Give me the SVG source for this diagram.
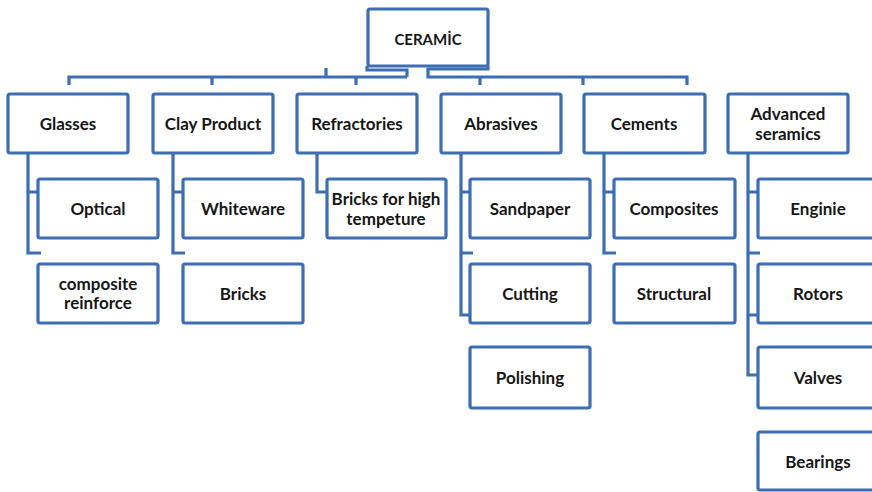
<svg xmlns="http://www.w3.org/2000/svg" width="872" height="492" viewBox="0 0 872 492">
<style>
.box{fill:#ffffff;stroke:#3d6db3;stroke-width:3.2;}
.t{font-family:Lato,"Open Sans","Liberation Sans",sans-serif;font-weight:bold;font-size:17px;fill:#161616;text-anchor:middle;dominant-baseline:central;}
.c{fill:none;stroke:#3d6db3;stroke-width:3.2;stroke-linejoin:miter;}
</style>
<rect width="872" height="492" fill="#ffffff"/>
<g id="connectors" class="c">
<path d="M367,66 V70 H407 V77 M69,85 V77 H407 M212,77 V85 M356,77 V85 M326,77 V68"/>
<path d="M488,66 V69 H428 V77 H687 V85 M480,77 V85 M583,77 V85"/>
<path d="M28,153 V253 H41 M28,192 H38"/>
<path d="M173,153 V253 H185 M173,192 H183"/>
<path d="M317,153 V192 H327"/>
<path d="M461,153 V315 H470 M461,192 H470 M461,253 H473"/>
<path d="M604,153 V253 H616 M604,192 H613"/>
<path d="M748,153 V375 H758 M748,192 H758 M748,253 H760 M748,315 H758"/>
</g>
<g id="ceramic"><rect class="box" x="368" y="9" width="120" height="57" rx="2"/><text class="t" x="428" y="39" style="font-size:15px">CERAMİC</text></g>
<g id="glasses"><rect class="box" x="8" y="94" width="120" height="59" rx="2"/><text class="t" x="68" y="123">Glasses</text></g>
<g id="clay"><rect class="box" x="153" y="94" width="120" height="59" rx="2"/><text class="t" x="213" y="123">Clay Product</text></g>
<g id="refractories"><rect class="box" x="297" y="94" width="120" height="59" rx="2"/><text class="t" x="357" y="123">Refractories</text></g>
<g id="abrasives"><rect class="box" x="441" y="94" width="120" height="59" rx="2"/><text class="t" x="501" y="123">Abrasives</text></g>
<g id="cements"><rect class="box" x="584" y="94" width="121" height="59" rx="2"/><text class="t" x="644" y="123">Cements</text></g>
<g id="advanced"><rect class="box" x="728" y="94" width="120" height="59" rx="2"/><text class="t" x="788" y="113">Advanced</text><text class="t" x="788" y="133">seramics</text></g>
<g id="optical"><rect class="box" x="38" y="179" width="120" height="59" rx="2"/><text class="t" x="98" y="208">Optical</text></g>
<g id="composite"><rect class="box" x="38" y="264" width="120" height="59" rx="2"/><text class="t" x="98" y="283">composite</text><text class="t" x="98" y="302">reinforce</text></g>
<g id="whiteware"><rect class="box" x="183" y="179" width="120" height="59" rx="2"/><text class="t" x="243" y="208">Whiteware</text></g>
<g id="bricks"><rect class="box" x="183" y="264" width="120" height="59" rx="2"/><text class="t" x="243" y="293">Bricks</text></g>
<g id="bricks-high"><rect class="box" x="327" y="179" width="119" height="59" rx="2"/><text class="t" x="386" y="198">Bricks for high</text><text class="t" x="386" y="218">tempeture</text></g>
<g id="sandpaper"><rect class="box" x="470" y="179" width="120" height="59" rx="2"/><text class="t" x="530" y="208">Sandpaper</text></g>
<g id="cutting"><rect class="box" x="470" y="264" width="120" height="59" rx="2"/><text class="t" x="530" y="293">Cutting</text></g>
<g id="polishing"><rect class="box" x="470" y="347" width="120" height="61" rx="2"/><text class="t" x="530" y="377">Polishing</text></g>
<g id="composites"><rect class="box" x="614" y="179" width="121" height="59" rx="2"/><text class="t" x="674" y="208">Composites</text></g>
<g id="structural"><rect class="box" x="614" y="264" width="121" height="59" rx="2"/><text class="t" x="674" y="293">Structural</text></g>
<g id="enginie"><rect class="box" x="758" y="179" width="120" height="59" rx="2"/><text class="t" x="818" y="208">Enginie</text></g>
<g id="rotors"><rect class="box" x="758" y="264" width="120" height="59" rx="2"/><text class="t" x="818" y="293">Rotors</text></g>
<g id="valves"><rect class="box" x="758" y="347" width="120" height="61" rx="2"/><text class="t" x="818" y="377">Valves</text></g>
<g id="bearings"><rect class="box" x="758" y="432" width="120" height="58" rx="2"/><text class="t" x="818" y="461">Bearings</text></g>
</svg>
